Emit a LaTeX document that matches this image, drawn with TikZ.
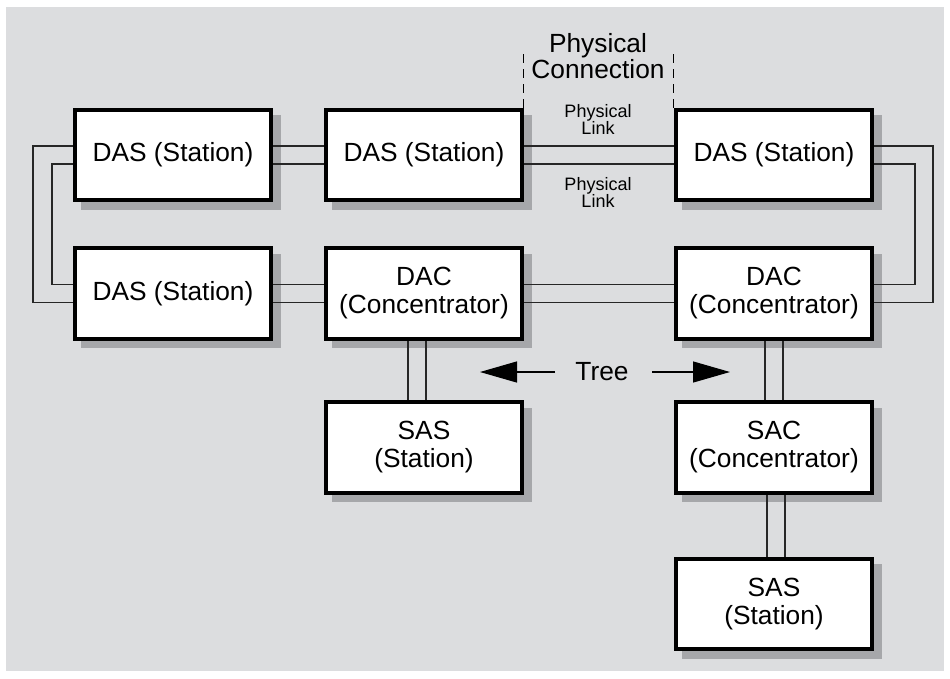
\documentclass[tikz,border=0pt]{standalone}
\usepackage{fontspec}
\setmainfont{Liberation Sans}
\usetikzlibrary{arrows.meta}
\definecolor{bggray}{HTML}{DCDDDF}
\definecolor{shgray}{HTML}{A6A7AA}
\begin{document}
\begin{tikzpicture}[x=1pt,y=-1pt,
  box/.style={draw=black, line width=4pt, fill=white, minimum width=196pt,
    minimum height=90.5pt, inner sep=0pt, align=center,
    font=\fontsize{26.3}{28}\selectfont,
    preaction={draw=shgray, fill=shgray, line width=4pt,
      transform canvas={xshift=7.5pt, yshift=-7.5pt}}},
  link/.style={line width=1.2pt, draw=black!85},
  bigtext/.style={font=\fontsize{26.3}{26.5}\selectfont, align=center, inner sep=0pt},
  smalltext/.style={font=\fontsize{18}{17}\selectfont, align=center, inner sep=0pt},
  treearrow/.style={line width=1.2pt, -{Triangle[length=37pt,width=21pt]}},
  dashline/.style={line width=1pt, dash pattern=on 9pt off 6pt}]
\useasboundingbox (0,0) rectangle (950,678);
\fill[white] (0,0) rectangle (950,678);
\fill[bggray] (6,7) rectangle (944,671);

% boxes
\node[box] (A) at (173,155) {DAS (Station)};
\node[box] (B) at (424,155) {DAS (Station)};
\node[box] (C) at (774,155) {DAS (Station)};
\node[box] (D) at (173,293.5) {DAS (Station)};
\node[box] (E) at (424,293.5) {DAC\\(Concentrator)};
\node[box] (F) at (774,293.5) {DAC\\(Concentrator)};
\node[box] (G) at (424,447.5) {SAS\\(Station)};
\node[box] (H) at (774,447.5) {SAC\\(Concentrator)};
\node[box] (I) at (774,604) {SAS\\(Station)};

% horizontal double links
\foreach \s in {9,-9}{
  \draw[link] ([yshift=\s pt]A.east) -- ([yshift=\s pt]B.west);
  \draw[link] ([yshift=\s pt]B.east) -- ([yshift=\s pt]C.west);
  \draw[link] ([yshift=\s pt]D.east) -- ([yshift=\s pt]E.west);
  \draw[link] ([yshift=\s pt]E.east) -- ([yshift=\s pt]F.west);
}
% left loop
\draw[link] ([yshift=9pt]A.west) -- ++(-40,0) |- ([yshift=-9pt]D.west);
\draw[link] ([yshift=-9pt]A.west) -- ++(-21,0) |- ([yshift=9pt]D.west);
% right loop
\draw[link] ([yshift=9pt]C.east) -- ++(59,0) |- ([yshift=-9pt]F.east);
\draw[link] ([yshift=-9pt]C.east) -- ++(41,0) |- ([yshift=9pt]F.east);
% vertical double links
\draw[link] ([xshift=-16pt]E.south) -- ([xshift=-16pt]G.north);
\draw[link] ([xshift=2pt]E.south) -- ([xshift=2pt]G.north);
\draw[link] ([xshift=-9pt]F.south) -- ([xshift=-9pt]H.north);
\draw[link] ([xshift=9pt]F.south) -- ([xshift=9pt]H.north);
\draw[link] ([xshift=-7pt]H.south) -- ([xshift=-7pt]I.north);
\draw[link] ([xshift=11pt]H.south) -- ([xshift=11pt]I.north);

% physical connection
\node[bigtext] (pc) at (598,56) {Physical\\Connection};
\draw[dashline] ([xshift=-1pt]B.north east) -- ++(0,-57);
\draw[dashline] ([xshift=-1pt]C.north west) -- ++(0,-57);
\node[smalltext] (pl1) at (598,119.5) {Physical\\Link};
\node[smalltext] (pl2) at (598,192.5) {Physical\\Link};

% tree
\node[bigtext] (tree) at (602,372) {Tree};
\coordinate (ta) at (555,372);
\coordinate (tb) at (480,372);
\coordinate (tc) at (652,372);
\coordinate (td) at (730,372);
\draw[treearrow] (ta) -- (tb);
\draw[treearrow] (tc) -- (td);
\end{tikzpicture}
\end{document}
